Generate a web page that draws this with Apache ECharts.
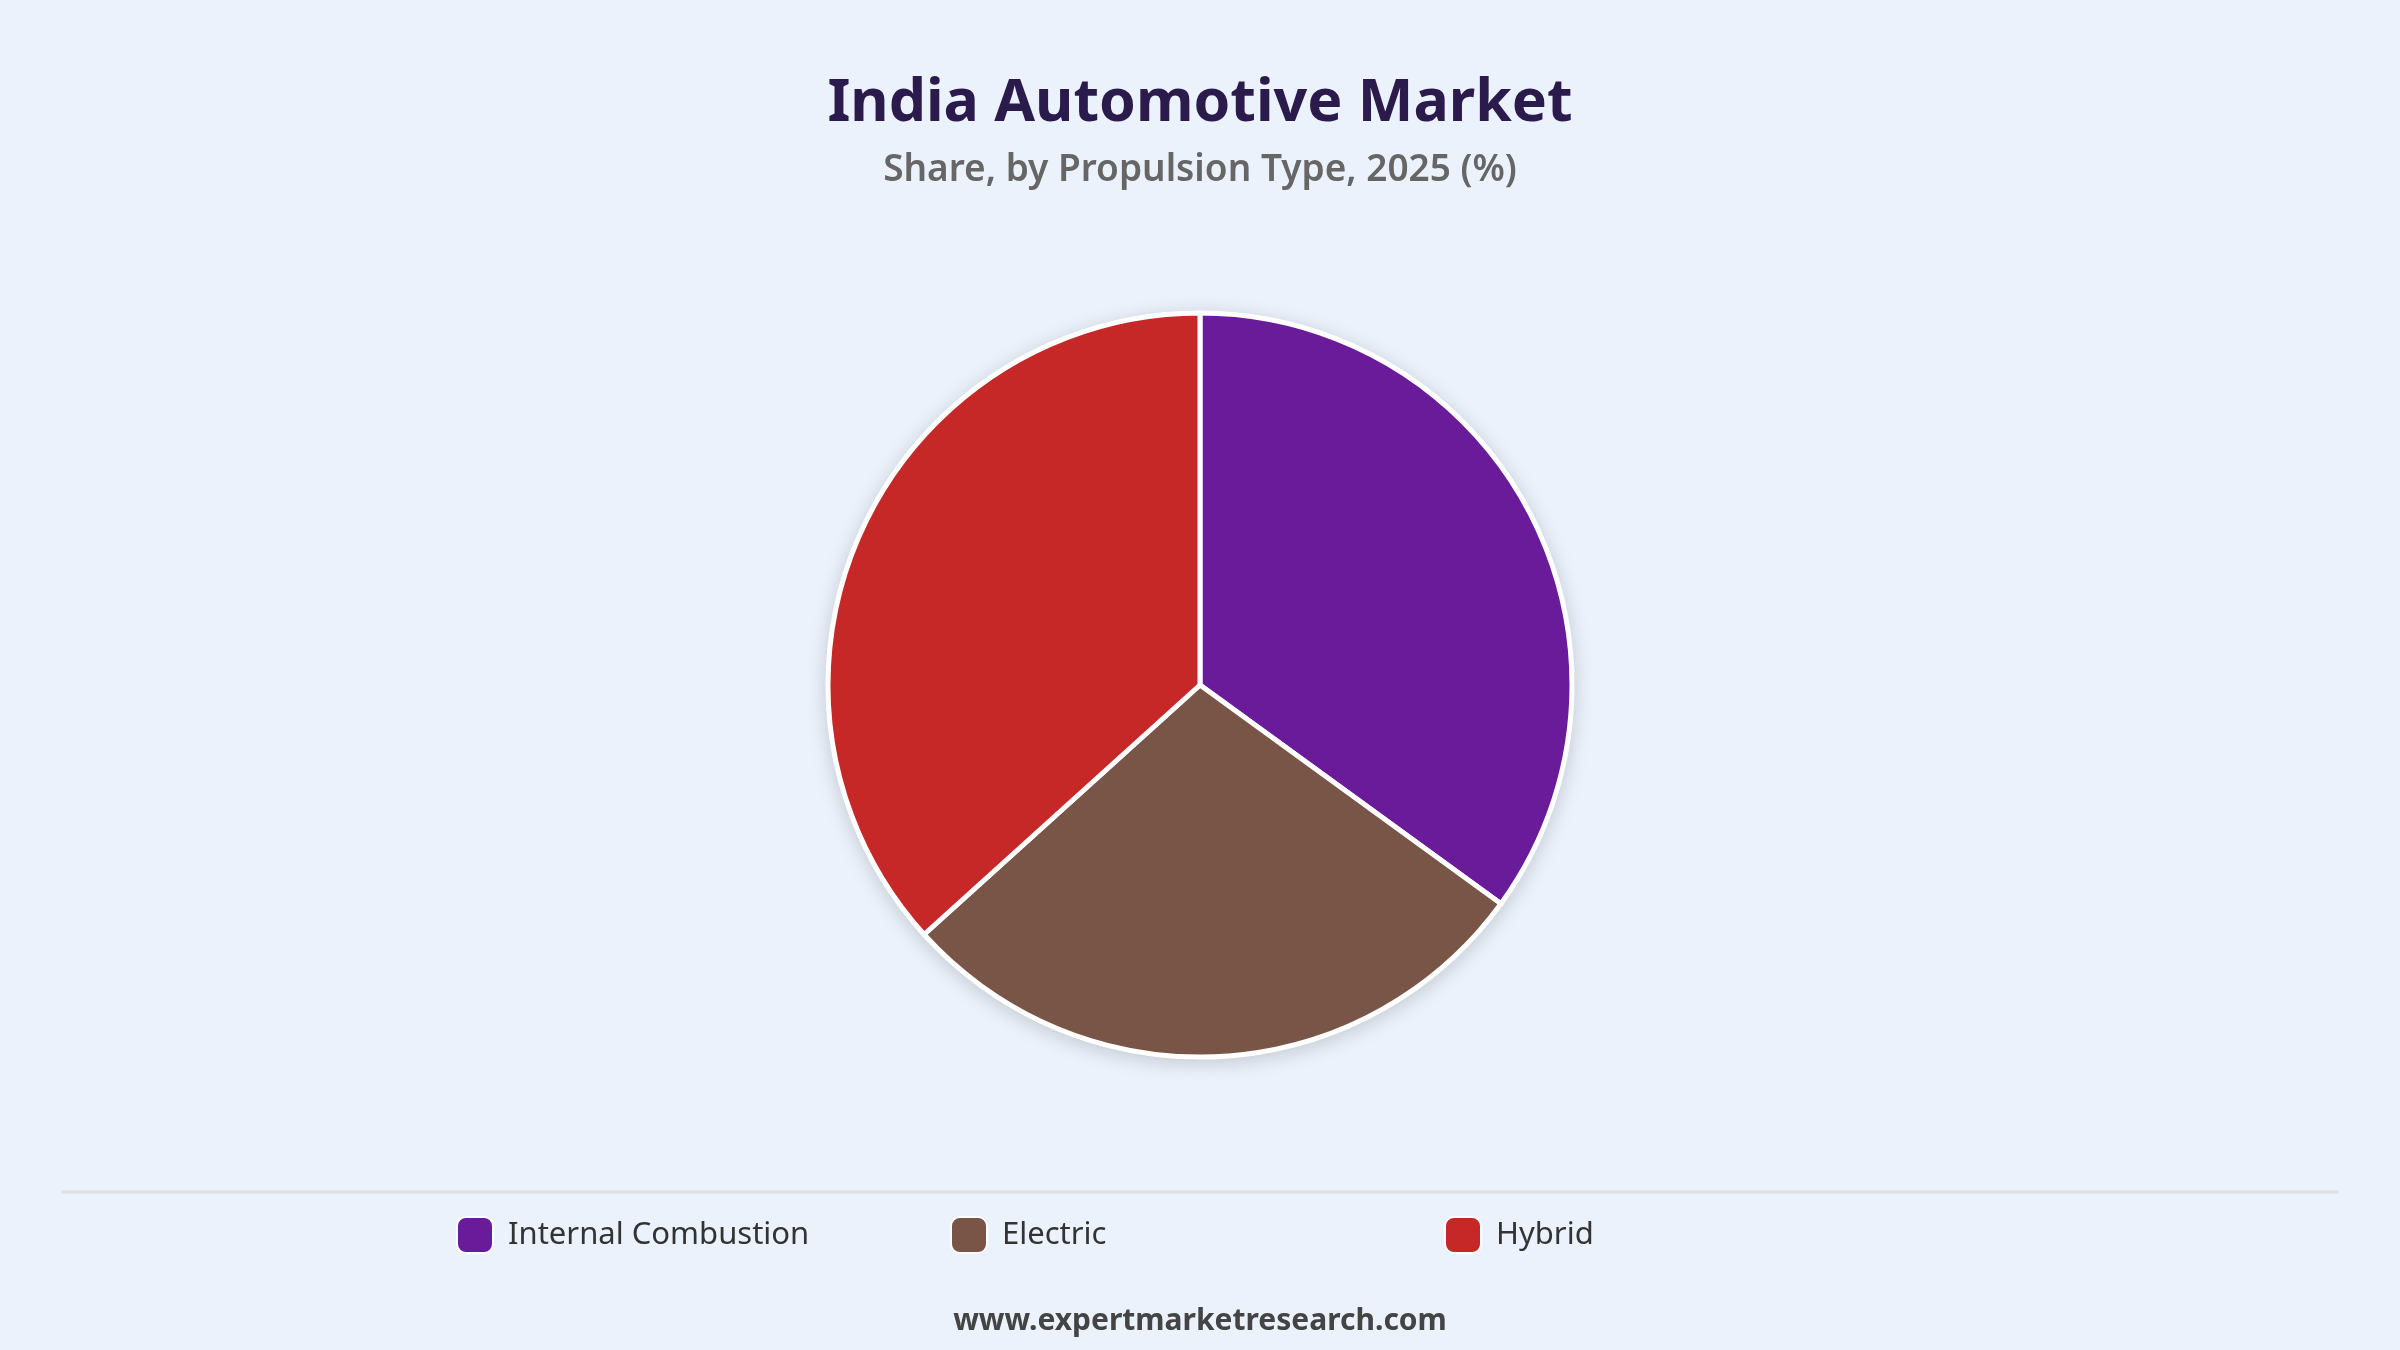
<!DOCTYPE html>
<html>
<head>
<meta charset="utf-8">
<script src="https://cdn.jsdelivr.net/npm/echarts@6/dist/echarts.min.js"></script>
<style>
  html, body { margin: 0; padding: 0; background: #ebf2fb; }
  #main { width: 2400px; height: 1350px; }
</style>
</head>
<body>
<div id="main"></div>
<script>
// data
const categories = ['Internal Combustion', 'Electric', 'Hybrid'];
const shares = [35.0, 28.3, 36.7];
const colors = ['#6a1b9a', '#795548', '#c62828'];

const legendLeft = [451, 945, 1439];

var myChart = echarts.init(document.getElementById('main'));

myChart.setOption({
  backgroundColor: '#ebf2fb',
  title: {
    text: 'India Automotive Market',
    subtext: 'Share, by Propulsion Type, 2025 (%)',
    left: 'center',
    top: 70,
    itemGap: 18,
    textStyle: {
      fontFamily: 'Noto Sans',
      fontSize: 59,
      fontWeight: 'bold',
      color: '#2b1a4c'
    },
    subtextStyle: {
      fontFamily: 'Noto Sans',
      fontSize: 37,
      fontWeight: 600,
      color: '#666666'
    }
  },
  legend: categories.map((name, i) => ({
    data: [name],
    left: legendLeft[i],
    top: 1211,
    itemWidth: 36,
    itemHeight: 36,
    icon: 'roundRect',
    selectedMode: false,
    textStyle: {
      fontFamily: 'Noto Sans',
      fontSize: 31,
      color: '#333333',
      padding: [0, 0, 0, 10]
    }
  })),
  graphic: [
    {
      type: 'line',
      shape: { x1: 61, y1: 1192, x2: 2339, y2: 1192 },
      style: { stroke: '#dcdfe3', lineWidth: 3 },
      silent: true
    },
    {
      type: 'text',
      left: 'center',
      top: 1306,
      style: {
        text: 'www.expertmarketresearch.com',
        fontFamily: 'Noto Sans',
        fontSize: 30,
        fontWeight: 'bold',
        fill: '#444444'
      }
    }
  ],
  series: [
    {
      // shadow disc under the pie
      type: 'pie',
      silent: true,
      center: [1200, 685],
      radius: [0, 374],
      z: 1,
      label: { show: false },
      itemStyle: {
        color: '#ffffff',
        shadowBlur: 20,
        shadowColor: 'rgba(0,0,0,0.18)',
        shadowOffsetY: 4
      },
      data: [{ value: 1, name: '_shadow' }],
      animation: false
    },
    {
      name: 'Share',
      type: 'pie',
      center: [1200, 685],
      radius: [0, 372],
      startAngle: 90,
      clockwise: true,
      z: 2,
      label: { show: false },
      labelLine: { show: false },
      itemStyle: {
        borderColor: '#ffffff',
        borderWidth: 5
      },
      data: categories.map((name, i) => ({
        name: name,
        value: shares[i],
        itemStyle: { color: colors[i] }
      })),
      animation: false
    }
  ]
});
</script>
</body>
</html>
